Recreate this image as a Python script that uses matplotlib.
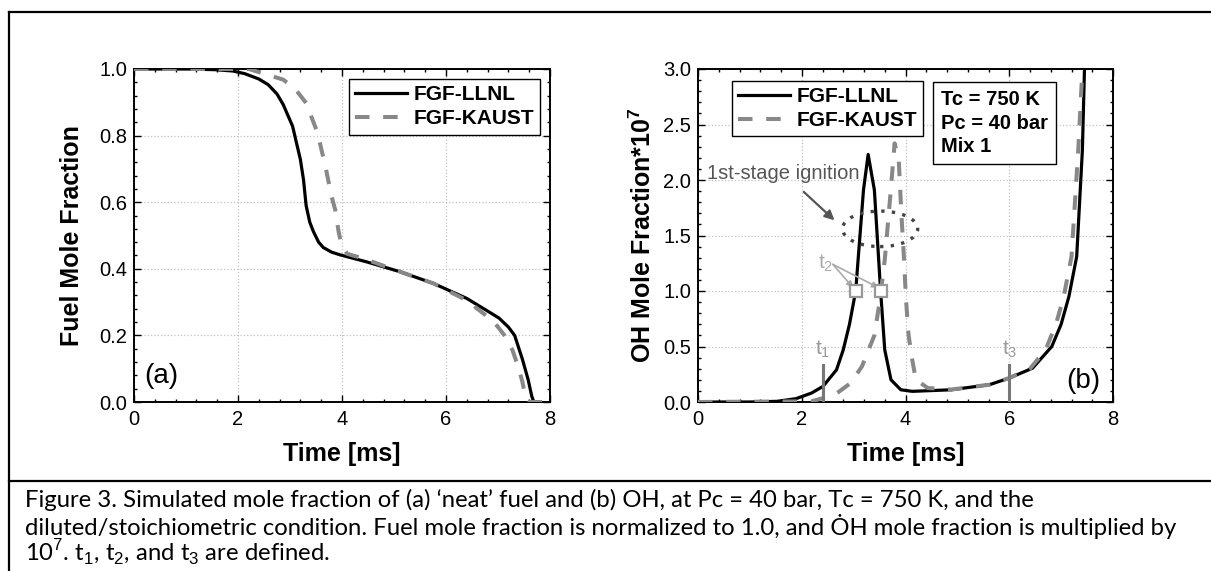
import numpy as np
import matplotlib
matplotlib.use('Agg')
import matplotlib.pyplot as plt
from matplotlib.patches import Ellipse
from matplotlib.lines import Line2D
from matplotlib.ticker import MultipleLocator, FormatStrFormatter

plt.rcParams['font.family'] = ['Liberation Sans', 'DejaVu Sans']
plt.rcParams['mathtext.fontset'] = 'custom'
plt.rcParams['mathtext.rm'] = 'Liberation Sans'
plt.rcParams['mathtext.bf'] = 'Liberation Sans:bold'

# (a) fuel mole fraction
fuel_t_llnl = [0, 1.0, 1.55, 1.9, 2.13, 2.4, 2.58, 2.75, 2.87, 3.05, 3.2, 3.26, 3.31, 3.38, 3.45,
               3.55, 3.64, 3.8, 3.96, 4.47, 5.12, 5.76, 6.4, 6.78, 7.02, 7.2, 7.32, 7.47, 7.58,
               7.65, 7.69, 7.8]
fuel_llnl = [1.0, 1.0, 0.998, 0.994, 0.986, 0.97, 0.953, 0.925, 0.893, 0.828, 0.728, 0.667, 0.59,
             0.54, 0.512, 0.48, 0.464, 0.45, 0.442, 0.421, 0.391, 0.356, 0.311, 0.275, 0.252,
             0.225, 0.2, 0.128, 0.067, 0.017, 0.0, 0.0]
fuel_t_kaust = [0, 2.21, 2.58, 2.87, 3.1, 3.31, 3.53, 3.68, 3.8, 3.87, 3.93, 3.99, 4.1, 4.41,
                5.12, 5.76, 6.4, 6.75, 6.95, 7.15, 7.28, 7.4, 7.47, 7.54, 7.6, 8.0]
fuel_kaust = [1.0, 1.0, 0.982, 0.968, 0.94, 0.898, 0.808, 0.708, 0.617, 0.577, 0.516, 0.471,
              0.445, 0.431, 0.391, 0.356, 0.305, 0.262, 0.235, 0.195, 0.155, 0.1, 0.06, 0.005,
              0.0, 0.0]

# (b) OH mole fraction * 1e7
oh_t_llnl = [0, 1.0, 1.52, 1.89, 2.19, 2.41, 2.67, 2.8, 2.92, 3.04, 3.19, 3.28, 3.4, 3.52,
             3.6, 3.72, 3.91, 4.13, 4.88, 5.62, 6.0, 6.45, 6.82, 7.0, 7.15, 7.3, 7.41, 7.45]
oh_llnl = [0, 0, 0.006, 0.03, 0.081, 0.141, 0.29, 0.47, 0.7, 1.0, 1.91, 2.23, 1.91, 1.0,
           0.47, 0.2, 0.11, 0.096, 0.11, 0.156, 0.216, 0.305, 0.5, 0.7, 0.95, 1.31, 2.27, 3.0]
oh_t_kaust = [0, 2.19, 2.64, 2.94, 3.16, 3.4, 3.5, 3.6, 3.7, 3.79, 3.87, 3.92, 3.97, 4.01,
              4.06, 4.13, 4.2, 4.43, 4.88, 5.62, 6.0, 6.4, 6.7, 6.9, 7.05, 7.2, 7.33, 7.41]
oh_kaust = [0, 0.006, 0.066, 0.17, 0.32, 0.6, 0.9, 1.28, 1.82, 2.33, 2.18, 1.7, 1.3, 0.92,
            0.6, 0.38, 0.2, 0.126, 0.112, 0.156, 0.216, 0.3, 0.47, 0.7, 0.95, 1.31, 2.27, 3.0]

t_marks = [2.4, 6.0]          # t1, t3
t2_times = [3.04, 3.53]
t2_level = [1.0, 1.0]

fig = plt.figure(figsize=(12.11, 5.71), dpi=100)
ax1 = fig.add_axes([134/1211, 1-402/571, 416/1211, 333/571])
ax2 = fig.add_axes([698/1211, 1-402/571, 415/1211, 333/571])

blk = dict(color='black', lw=2.3, label='FGF-LLNL', zorder=3)
gry = dict(color='#888888', lw=2.9, ls=(0, (3.6, 3.4)), label='FGF-KAUST', zorder=4)

ax1.plot(fuel_t_llnl, fuel_llnl, **blk)
ax1.plot(fuel_t_kaust, fuel_kaust, **gry)
ax2.plot(oh_t_llnl, oh_llnl, **blk)
ax2.plot(oh_t_kaust, oh_kaust, **gry)

for ax, ymax, ymaj, ymin in [(ax1, 1.0, 0.2, 0.04), (ax2, 3.0, 0.5, 0.1)]:
    ax.set_xlim(0, 8)
    ax.set_ylim(0, ymax)
    ax.xaxis.set_major_locator(MultipleLocator(2))
    ax.xaxis.set_minor_locator(MultipleLocator(0.4))
    ax.yaxis.set_major_locator(MultipleLocator(ymaj))
    ax.yaxis.set_minor_locator(MultipleLocator(ymin))
    ax.yaxis.set_major_formatter(FormatStrFormatter('%.1f'))
    ax.tick_params(which='both', direction='in', top=True, right=True, width=1)
    ax.tick_params(which='major', length=5, labelsize=14.5)
    ax.tick_params(which='minor', length=2.5)
    ax.tick_params(axis='y', pad=5)
    ax.tick_params(axis='x', pad=6)
    ax.grid(True, which='major', color='#c0c0c0', ls=':', lw=0.9)
    for s in ax.spines.values():
        s.set_linewidth(1.4)
    ax.set_xlabel('Time [ms]', fontsize=18, fontweight='bold', labelpad=9)

ax1.set_ylabel('Fuel Mole Fraction', fontsize=18, fontweight='bold', labelpad=11)
ax2.set_ylabel(r'OH Mole Fraction*10$^{\mathbf{7}}$', fontsize=18, fontweight='bold', labelpad=5)

leg_kw = dict(frameon=True, fancybox=False, edgecolor='black', framealpha=1, borderpad=0.3,
              labelspacing=0.25, handlelength=2.5, handletextpad=0.3, borderaxespad=0,
              prop={'weight': 'bold', 'size': 15})
l1 = ax1.legend(loc='upper right', bbox_to_anchor=(0.976, 0.97), **leg_kw)
l1.get_frame().set_linewidth(1.0)
l2 = ax2.legend(loc='upper left', bbox_to_anchor=(0.081, 0.965), **leg_kw)
l2.get_frame().set_linewidth(1.0)

ax1.text(0.52, 0.077, '(a)', fontsize=20, ha='center', va='center')
ax2.text(7.42, 0.19, '(b)', fontsize=20, ha='center', va='center')

ax2.text(4.5 + 0.19, 2.9 - 0.09, 'Tc = 750 K\nPc = 40 bar\nMix 1', fontsize=14.5, fontweight='bold',
         ha='left', va='top', linespacing=1.3,
         bbox=dict(boxstyle='square,pad=0.4', fc='white', ec='black', lw=1.0))

# 1st-stage ignition annotation
ax2.text(0.17, 2.06, '1st-stage ignition', fontsize=14.5, color='#555555', ha='left', va='center')
ax2.annotate('', xy=(2.67, 1.62), xytext=(2.0, 1.91),
             arrowprops=dict(arrowstyle='-|>', color='#555555', lw=1.6, mutation_scale=14))
ax2.add_patch(Ellipse((3.51, 1.56), 1.45, 0.32, fill=False, ls=(0, (1, 2.2)), lw=2.4,
                      ec='#444444', zorder=5))

# t1, t3 markers
for tm, lab in zip(t_marks, ['1', '3']):
    ax2.plot([tm, tm], [0, 0.335], color='#777777', lw=2.2, zorder=5)
    ax2.text(tm, 0.47, r'$\mathregular{t_{%s}}$' % lab, fontsize=15, color='#999999',
             ha='center', va='center')

# t2 markers
ax2.plot(t2_times, t2_level, 's', mfc='white', mec='#999999', ms=9, mew=1.6, zorder=6)
ax2.text(2.47, 1.25, r'$\mathregular{t_{2}}$', fontsize=15, color='#aaaaaa', ha='center', va='center')
for tx in t2_times:
    ax2.annotate('', xy=(tx - 0.05, 1.03), xytext=(2.6, 1.24),
                 arrowprops=dict(arrowstyle='-|>', color='#aaaaaa', lw=1.2, mutation_scale=9,
                                 shrinkA=0, shrinkB=0))

# outer frame and caption separator
fig.add_artist(Line2D([9/1211, 1.0], [1-12/571, 1-12/571], color='black', lw=1.6))
fig.add_artist(Line2D([9/1211, 9/1211], [0, 1-12/571], color='black', lw=1.6))
fig.add_artist(Line2D([9/1211, 1.0], [1-481/571, 1-481/571], color='black', lw=1.6))

cap = ['Figure 3. Simulated mole fraction of (a) \u2018neat\u2019 fuel and (b) OH, at Pc = 40 bar, Tc = 750 K, and the',
       'diluted/stoichiometric condition. Fuel mole fraction is normalized to 1.0, and \u022eH mole fraction is multiplied by',
       r'10$^{7}$. t$_{1}$, t$_{2}$, and t$_{3}$ are defined.']
for i, line in enumerate(cap):
    fig.text(25/1211, 1-(500 + 26.5*i)/571, line, fontsize=17.2, family=['Lato', 'DejaVu Sans'],
             ha='left', va='center')

fig.savefig('out.png', dpi=100)
